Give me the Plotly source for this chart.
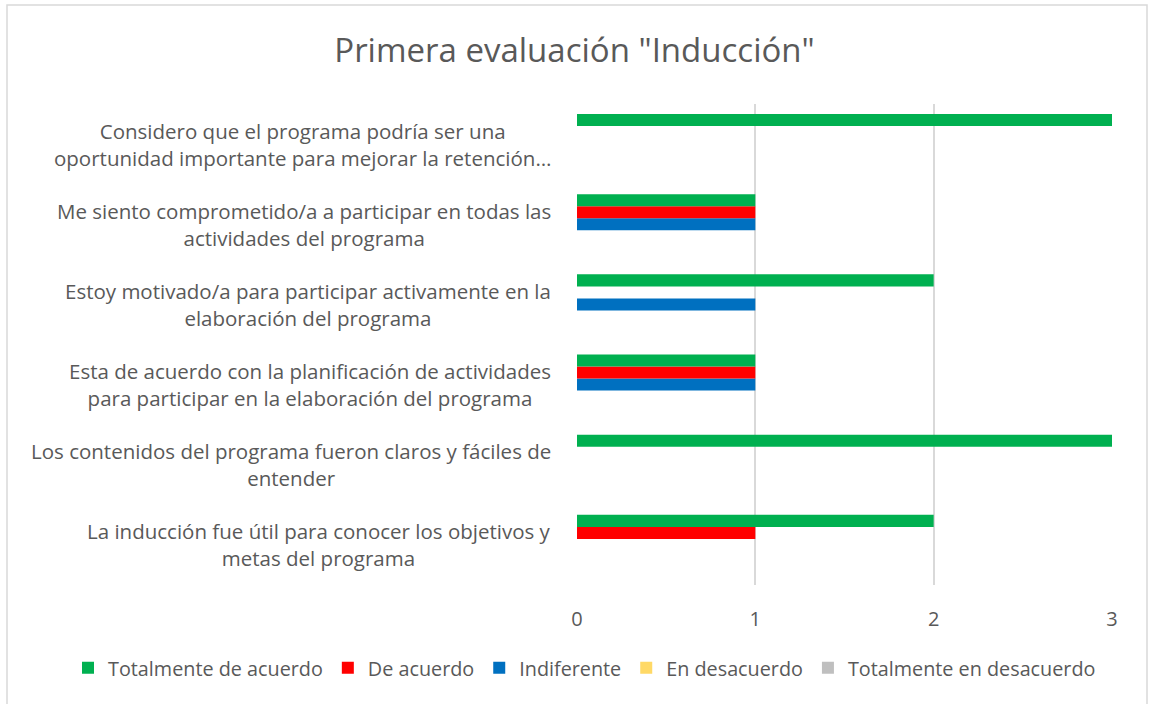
import plotly.graph_objects as go

categories = [
    "La inducción fue útil para conocer los objetivos y<br>metas del programa",
    "Los contenidos del programa fueron claros y fáciles de<br>entender",
    "Esta de acuerdo con la planificación de actividades<br>para participar en la elaboración del programa",
    "Estoy motivado/a para participar activamente en la<br>elaboración del programa",
    "Me siento comprometido/a a participar en todas las<br>actividades del programa",
    "Considero que el programa podría ser una<br>oportunidad importante para mejorar la retención…",
]
series_names = ["Totalmente de acuerdo", "De acuerdo", "Indiferente", "En desacuerdo", "Totalmente en desacuerdo"]
totalmente_de_acuerdo = [2, 3, 1, 2, 1, 3]
de_acuerdo = [1, 0, 1, 0, 1, 0]
indiferente = [0, 0, 1, 1, 1, 0]
en_desacuerdo = [0, 0, 0, 0, 0, 0]
totalmente_en_desacuerdo = [0, 0, 0, 0, 0, 0]
x_ticks = [0, 1, 2, 3]

values = [totalmente_de_acuerdo, de_acuerdo, indiferente, en_desacuerdo, totalmente_en_desacuerdo]
colors = ["#00B050", "#FF0000", "#0070C0", "#FFD966", "#BFBFBF"]
ids = list(range(len(categories)))

fig = go.Figure()
for name, vals, col in reversed(list(zip(series_names, values, colors))):
    fig.add_trace(go.Bar(y=ids, x=vals, name=name, orientation="h",
                         marker=dict(color=col, line=dict(width=0))))

FONT = "Open Sans"
TXT = "#595959"
L, R, T, B = 577, 37, 104, 119
pw, ph = 1149 - L - R, 704 - T - B

for i, c in zip(ids, categories):
    fig.add_annotation(x=(553 - L) / pw, xref="paper", y=i, yref="y", text=c, showarrow=False,
                       xanchor="right", yanchor="middle", align="center",
                       font=dict(family=FONT, size=20.5, color=TXT))

fig.add_shape(type="rect", xref="paper", yref="paper",
              x0=(7 - L) / pw, x1=(1147 - L) / pw, y0=(704 - B - 720) / ph, y1=(704 - B - 5) / ph,
              line=dict(color="#D9D9D9", width=1.5), fillcolor="rgba(0,0,0,0)", layer="below")

fig.update_layout(
    width=1149, height=704,
    margin=dict(l=L, r=R, t=T, b=B),
    paper_bgcolor="white", plot_bgcolor="white",
    barmode="group", bargap=0.25, bargroupgap=0,
    title=dict(text='Primera evaluación "Inducción"', x=0.5, xref="container", y=0.928, yanchor="middle",
               font=dict(family=FONT, size=33, color=TXT)),
    xaxis=dict(range=[0, 3], tickvals=x_ticks, showgrid=True, gridcolor="#D9D9D9", gridwidth=1.5,
               zeroline=False, showline=False, ticks="", tickfont=dict(family=FONT, size=20, color=TXT),
               ticklabelstandoff=20),
    yaxis=dict(range=[-0.5, 5.5], showticklabels=False, showgrid=False, zeroline=False, showline=False),
    legend=dict(orientation="h", traceorder="reversed", x=(68 - L) / pw, xref="paper", xanchor="left",
                y=(585 - 668) / ph, yref="paper", yanchor="middle",
                font=dict(family=FONT, size=19.8, color=TXT), itemwidth=30),
    showlegend=True,
)
fig.write_html("out.html", config={"displayModeBar": False},
               post_script="document.body.style.margin='0px';")
